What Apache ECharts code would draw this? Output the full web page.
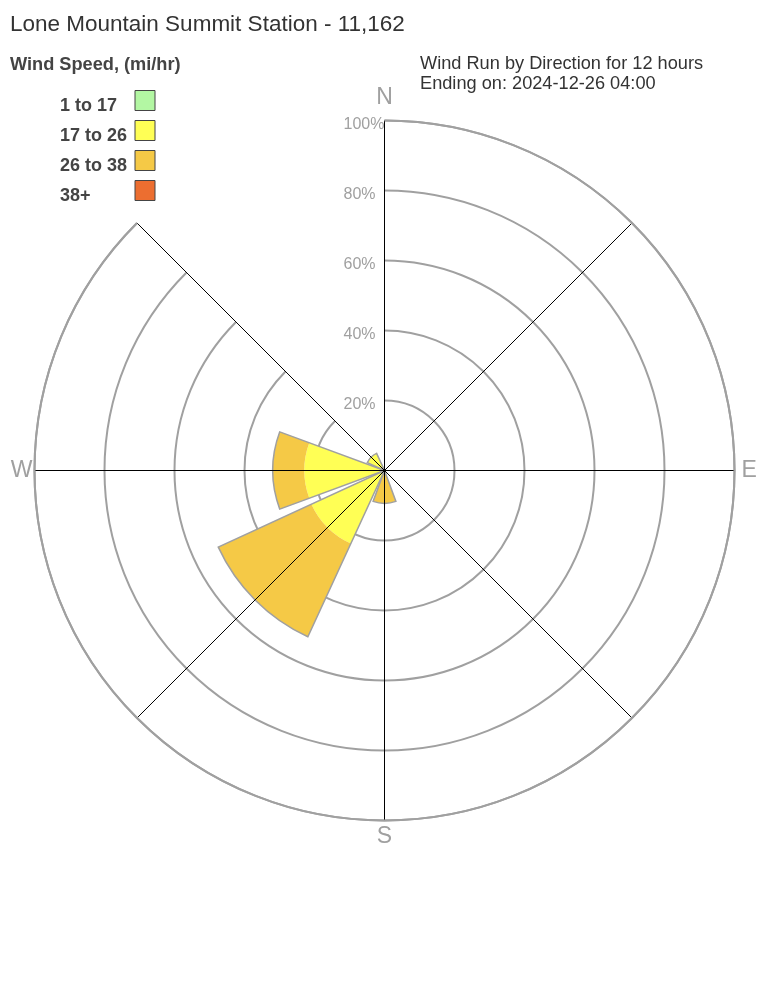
<!DOCTYPE html>
<html>
<head>
<meta charset="utf-8">
<script src="https://cdn.jsdelivr.net/npm/echarts@6/dist/echarts.min.js"></script>
<style>
  html, body { margin: 0; padding: 0; background: #fff; }
  #chart { width: 768px; height: 1008px; }
</style>
</head>
<body>
<div id="chart"></div>
<script>
// ---- data ----
const directions = ['N', 'NE', 'E', 'SE', 'S', 'SW', 'W', 'NW'];
const speedBins = ['1 to 17', '17 to 26', '26 to 38', '38+'];
const binColors = ['#b3f7a3', '#ffff55', '#f5c946', '#ec6e30'];
// percent of wind run per direction, per speed bin
const bin1to17  = [0, 0, 0, 0, 0, 0, 0, 0];
const bin17to26 = [0, 0, 0, 0, 0, 23.0, 22.9, 5.4];
const bin26to38 = [0, 0, 0, 0, 9.4, 29.3, 9.0, 0];
const bin38plus = [0, 0, 0, 0, 0, 0, 0, 0];
const radiusTicks = [0, 20, 40, 60, 80, 100];
const titleText = 'Lone Mountain Summit Station - 11,162';
const subtitleText = 'Wind Run by Direction for 12 hours\nEnding on: 2024-12-26 04:00';
const legendTitle = 'Wind Speed, (mi/hr)';

const binData = [bin1to17, bin17to26, bin26to38, bin38plus];
const totals = directions.map((d, i) => {
  const s = binData.reduce((a, arr) => a + arr[i], 0);
  return s > 0 ? s : null;
});

const FONT = 'Liberation Sans, Arial, sans-serif';
const chart = echarts.init(document.getElementById('chart'), null, { renderer: 'canvas' });

const series = speedBins.map((name, k) => ({
  name: name,
  type: 'bar',
  coordinateSystem: 'polar',
  stack: 'wind',
  data: binData[k],
  barCategoryGap: '10%',
  barGap: '-100%',
  itemStyle: { color: binColors[k], borderWidth: 0 },
  z: 2
}));
series.push({
  name: 'outline',
  type: 'bar',
  coordinateSystem: 'polar',
  data: totals,
  barCategoryGap: '10%',
  barGap: '-100%',
  silent: true,
  itemStyle: { color: 'rgba(0,0,0,0)', borderColor: '#a0a0a0', borderWidth: 1.5 },
  z: 3
});

const option = {
  backgroundColor: '#ffffff',
  animation: false,
  title: [
    {
      text: titleText,
      left: 10, top: 13, padding: 0,
      textStyle: { fontFamily: FONT, fontSize: 22.5, fontWeight: 'normal', color: '#333333' }
    },
    {
      text: subtitleText,
      left: 420, top: 54, padding: 0,
      textStyle: { fontFamily: FONT, fontSize: 18.2, fontWeight: 'normal', color: '#333333', lineHeight: 20 }
    },
    {
      text: legendTitle,
      left: 10, top: 56, padding: 0,
      textStyle: { fontFamily: FONT, fontSize: 18.2, fontWeight: 'bold', color: '#444444' }
    }
  ],
  legend: {
    data: speedBins,
    orient: 'vertical',
    left: 60, top: 85.5,
    padding: 0,
    align: 'right',
    itemWidth: 20, itemHeight: 20, itemGap: 0,
    icon: 'rect',
    selectedMode: false,
    itemStyle: { borderColor: '#444444', borderWidth: 1 },
    formatter: function (name) { return '{a|' + name + '}'; },
    textStyle: {
      fontFamily: FONT, fontSize: 18, fontWeight: 'bold', color: '#444444',
      rich: {
        a: { fontFamily: FONT, fontSize: 18, fontWeight: 'bold', color: '#444444',
             width: 70, align: 'left', lineHeight: 20, padding: [12, 0, 0, 0] }
      }
    }
  },
  polar: { center: [384.5, 470.5], radius: 350 },
  angleAxis: {
    type: 'category',
    data: directions,
    boundaryGap: false,
    startAngle: 90,
    clockwise: true,
    z: 5,
    axisTick: { show: false },
    axisLine: { show: true, lineStyle: { color: '#a0a0a0', width: 2 } },
    splitLine: { show: true, lineStyle: { color: '#000000', width: 1 } },
    axisLabel: {
      margin: 2,
      formatter: function (v) {
        return ['N', 'E', 'S', 'W'].indexOf(v) >= 0 ? '{' + v + '|' + v + '}' : '';
      },
      rich: {
        N: { fontFamily: FONT, fontSize: 23, color: '#a0a0a0', padding: [0, 0, 9, 0] },
        E: { fontFamily: FONT, fontSize: 23, color: '#a0a0a0', padding: [0, 0, 0, 5] },
        S: { fontFamily: FONT, fontSize: 23, color: '#a0a0a0', padding: [3, 0, 0, 0] },
        W: { fontFamily: FONT, fontSize: 23, color: '#a0a0a0', padding: [0, 0, 0, 0] }
      }
    }
  },
  radiusAxis: {
    type: 'value',
    min: radiusTicks[0],
    max: radiusTicks[radiusTicks.length - 1],
    interval: radiusTicks[1] - radiusTicks[0],
    z: 1,
    axisLine: { show: false },
    axisTick: { show: false },
    splitLine: { show: true, lineStyle: { color: '#a0a0a0', width: 2 } },
    axisLabel: {
      margin: 41,
      align: 'left',
      verticalAlign: 'middle',
      formatter: function (v) { return v === 0 ? '' : '{p|' + v + '%}'; },
      rich: {
        p: { fontFamily: FONT, fontSize: 16, color: '#a0a0a0', padding: [8, 0, 0, 0] }
      }
    }
  },
  series: series
};
chart.setOption(option);
</script>
</body>
</html>
